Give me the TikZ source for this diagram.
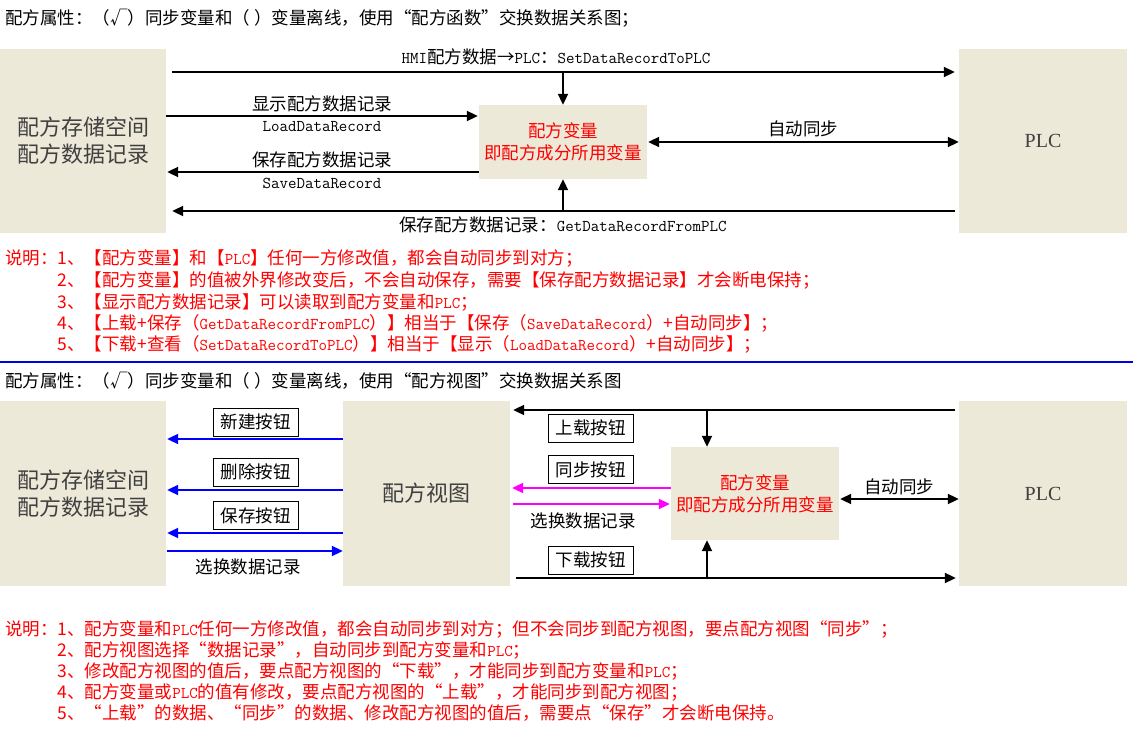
\documentclass[tikz,border=0pt]{standalone}
\usepackage{fontspec}
\setmainfont{Noto Sans CJK SC}
\newfontfamily\serifen{Liberation Serif}
\usetikzlibrary{arrows.meta,positioning}
\definecolor{BoxBg}{RGB}{236,233,216}
\definecolor{BoxText}{RGB}{64,64,64}
\definecolor{NoteRed}{RGB}{255,0,0}
\definecolor{PinkLine}{RGB}{255,0,255}
\definecolor{BlueLine}{RGB}{0,0,255}
\definecolor{RuleBlue}{RGB}{0,0,225}
\newcommand{\en}[1]{{\ttfamily\fontsize{16.5}{20}\selectfont #1}}

\begin{document}
\begin{tikzpicture}[x=1pt, y=-1pt,
		every node/.style={inner sep=0pt, font=\fontsize{17.5}{21}\selectfont},
		block/.style={fill=BoxBg, text=BoxText, align=center, font=\fontsize{22}{27}\selectfont},
		plcblock/.style={block, font=\serifen\fontsize{20}{22}\selectfont},
		varblock/.style={fill=BoxBg, text=NoteRed, align=center, font=\fontsize{17.5}{22}\selectfont},
		btn/.style={draw, line width=1pt, minimum width=85pt, minimum height=28pt},
		arr/.style={-{Triangle[length=11pt,width=10pt]}, line width=2pt},
		darr/.style={{Triangle[length=11pt,width=10pt]}-{Triangle[length=11pt,width=10pt]}, line width=2pt},
		note/.style={anchor=west, text=NoteRed}]
	\useasboundingbox (0,0) rectangle (1133,743);
	\fill[white] (0,0) rectangle (1133,743);
	% 配方函数
	\node[anchor=west] (title1) at (5,18) {配方属性：（√）同步变量和（ ）变量离线，使用“配方函数”交换数据关系图；};
	\node[block, minimum width=166pt, minimum height=184pt] (store) at (83,141) {配方存储空间\\配方数据记录};
	\node[plcblock, minimum width=168pt, minimum height=184pt] (plc) at (1043,141) {PLC};
	\node[varblock, minimum width=168pt, minimum height=74pt] (var) at (563,142) {配方变量\\即配方成分所用变量};
	\coordinate (row1) at (0,72);
	\coordinate (row2) at (0,116);
	\coordinate (row3) at (0,172);
	\coordinate (row4) at (0,211);
	% HMI -> PLC
	\draw[arr, shorten <=6pt, shorten >=4pt] (store.east |- row1) -- (plc.west |- row1);
	\draw[arr] (var.north |- row1) -- (var.north);
	\node (hmi) at (556,57) {\en{HMI}配方数据→\en{PLC}：\en{SetDataRecordToPLC}};
	% 显示 / 保存
	\draw[arr, shorten >=1pt] (store.east |- row2) -- (var.west |- row2);
	\node (loadcn) at (322,104) {显示配方数据记录};
	\node (loaden) at (322,127) {\en{LoadDataRecord}};
	\draw[arr, shorten >=1pt] (var.west |- row3) -- (store.east |- row3);
	\node (savecn) at (322,160) {保存配方数据记录};
	\node (saveen) at (322,183) {\en{SaveDataRecord}};
	% 自动同步
	\draw[darr, shorten <=1pt] (var.east) -- (plc.west |- var.east);
	\node (sync1) at (803,129) {自动同步};
	% PLC -> HMI
	\draw[arr, shorten <=4pt, shorten >=6pt] (plc.west |- row4) -- (store.east |- row4);
	\draw[arr] (var.south |- row4) -- (var.south);
	\node (getrec) at (563,225) {保存配方数据记录：\en{GetDataRecordFromPLC}};
	% 说明
	\node[note] (n11) at (5,258) {说明：1、【配方变量】和【\en{PLC}】任何一方修改值，都会自动同步到对方；};
	\node[note] (n12) at (57.5,280) {2、【配方变量】的值被外界修改变后，不会自动保存，需要【保存配方数据记录】才会断电保持；};
	\node[note] (n13) at (57.5,302) {3、【显示配方数据记录】可以读取到配方变量和\en{PLC}；};
	\node[note] (n14) at (57.5,323) {4、【上载+保存（\en{GetDataRecordFromPLC}）】相当于【保存（\en{SaveDataRecord}）+自动同步】；};
	\node[note] (n15) at (57.5,344) {5、【下载+查看（\en{SetDataRecordToPLC}）】相当于【显示（\en{LoadDataRecord}）+自动同步】；};
	\draw[RuleBlue, line width=2pt] (0,362) -- (1133,362);
	% 配方视图
	\node[anchor=west] (title2) at (5,381) {配方属性：（√）同步变量和（ ）变量离线，使用“配方视图”交换数据关系图};
	\node[block, minimum width=166pt, minimum height=185pt] (store2) at (83,493.5) {配方存储空间\\配方数据记录};
	\node[block, minimum width=167pt, minimum height=185pt] (view) at (426.5,493.5) {配方视图};
	\node[varblock, minimum width=168pt, minimum height=93pt] (var2) at (755,493.5) {配方变量\\即配方成分所用变量};
	\node[plcblock, minimum width=168pt, minimum height=185pt] (plc2) at (1043,493.5) {PLC};
	\coordinate (brow1) at (0,439);
	\coordinate (brow2) at (0,490);
	\coordinate (brow3) at (0,533);
	\coordinate (brow4) at (0,551);
	% 视图按钮
	\draw[arr, BlueLine, shorten >=1pt] (view.west |- brow1) -- (store2.east |- brow1);
	\draw[arr, BlueLine, shorten >=1pt] (view.west |- brow2) -- (store2.east |- brow2);
	\draw[arr, BlueLine, shorten >=1pt] (view.west |- brow3) -- (store2.east |- brow3);
	\draw[arr, BlueLine, shorten <=1pt] (store2.east |- brow4) -- (view.west |- brow4);
	\node[btn] (newbtn) at (255.5,422) {新建按钮};
	\node[btn] (delbtn) at (255.5,472) {删除按钮};
	\node[btn] (savebtn) at (255.5,515.5) {保存按钮};
	\node (selL) at (248,567) {选换数据记录};
	% 上载 / 同步 / 下载
	\coordinate (rrow1) at (0,410);
	\coordinate (rrow2) at (0,488);
	\coordinate (rrow3) at (0,504);
	\coordinate (rrow4) at (0,578);
	\coordinate (rsync) at (0,499);
	\coordinate (tap) at (707,0);
	\draw[arr, shorten <=4pt, shorten >=3pt] (plc2.west |- rrow1) -- (view.east |- rrow1);
	\draw[arr] (tap |- rrow1) -- (tap |- var2.north);
	\node[btn] (upbtn) at (590.5,428) {上载按钮};
	\node[btn] (syncbtn) at (590.5,469.5) {同步按钮};
	\draw[arr, PinkLine, shorten >=2pt] (var2.west |- rrow2) -- (view.east |- rrow2);
	\draw[arr, PinkLine, shorten <=3pt, shorten >=1pt] (view.east |- rrow3) -- (var2.west |- rrow3);
	\node (selR) at (583,521) {选换数据记录};
	\node[btn] (downbtn) at (590.5,560) {下载按钮};
	\draw[arr, shorten <=6pt, shorten >=3pt] (view.east |- rrow4) -- (plc2.west |- rrow4);
	\draw[arr] (tap |- rrow4) -- (tap |- var2.south);
	\draw[darr, shorten <=1pt] (var2.east |- rsync) -- (plc2.west |- rsync);
	\node (sync2) at (899,487) {自动同步};
	% 说明
	\node[note] (n21) at (5,629) {说明：1、配方变量和\en{PLC}任何一方修改值，都会自动同步到对方；但不会同步到配方视图，要点配方视图“同步”；};
	\node[note] (n22) at (57.5,650) {2、配方视图选择“数据记录”，自动同步到配方变量和\en{PLC}；};
	\node[note] (n23) at (57.5,671) {3、修改配方视图的值后，要点配方视图的“下载”，才能同步到配方变量和\en{PLC}；};
	\node[note] (n24) at (57.5,692) {4、配方变量或\en{PLC}的值有修改，要点配方视图的“上载”，才能同步到配方视图；};
	\node[note] (n25) at (57.5,713) {5、“上载”的数据、“同步”的数据、修改配方视图的值后，需要点“保存”才会断电保持。};
\end{tikzpicture}
\end{document}
